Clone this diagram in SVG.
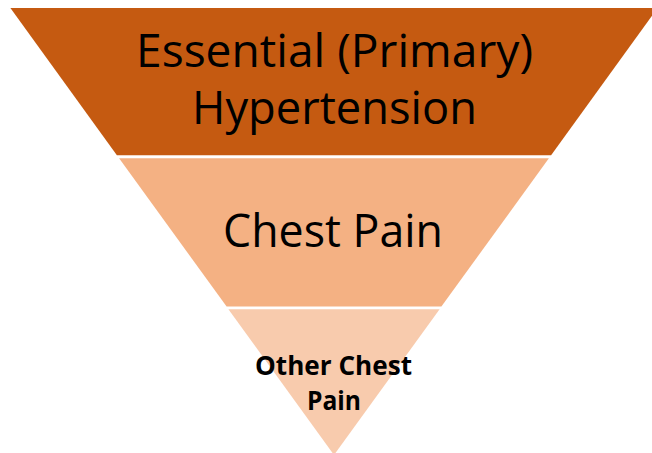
<svg xmlns="http://www.w3.org/2000/svg" width="652" height="453" viewBox="0 0 652 453">
<style>
.t{font-family:"Open Sans","Liberation Sans",sans-serif;fill:#000;text-anchor:middle}
.big{font-size:45px}
.small{font-size:27px;font-weight:bold}
</style>
<rect width="652" height="453" fill="#fff"/>
<g id="level1">
<polygon points="10.4,8 657.6,8 551.1,155.2 116.9,155.2" fill="#C55A11"/>
<text class="t big" x="334.5" y="66.7" textLength="397" lengthAdjust="spacingAndGlyphs">Essential (Primary)</text>
<text class="t big" x="334.5" y="124" textLength="285" lengthAdjust="spacingAndGlyphs">Hypertension</text>
</g>
<g id="level2">
<polygon points="119.1,158.2 548.9,158.2 441.4,306.6 226.6,306.6" fill="#F4B183"/>
<text class="t big" x="333" y="246.7" textLength="220" lengthAdjust="spacingAndGlyphs">Chest Pain</text>
</g>
<g id="level3">
<polygon points="228.4,309.2 439.6,309.2 334,455" fill="#F8CBAD"/>
<text class="t small" x="333.5" y="375" textLength="157" lengthAdjust="spacingAndGlyphs">Other Chest</text>
<text class="t small" x="334" y="410" textLength="54" lengthAdjust="spacingAndGlyphs">Pain</text>
</g>
<g id="connectors"/>
</svg>
